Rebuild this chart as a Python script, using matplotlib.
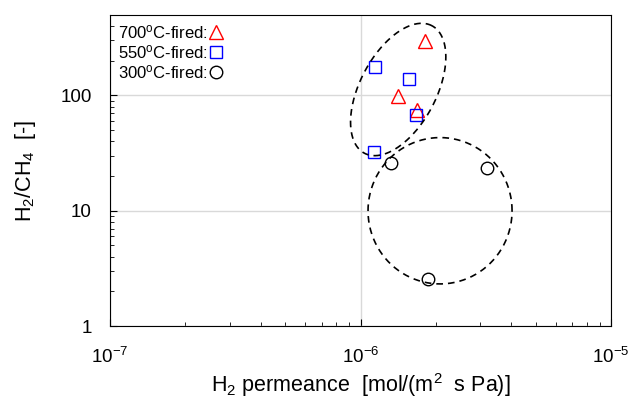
import numpy as np
import matplotlib
matplotlib.use("Agg")
import matplotlib.pyplot as plt
from matplotlib.lines import Line2D

plt.rcParams["font.family"] = ["Liberation Sans", "DejaVu Sans"]
plt.rcParams["mathtext.fontset"] = "custom"
plt.rcParams["mathtext.rm"] = "Liberation Sans"
plt.rcParams["mathtext.it"] = "Liberation Sans:italic"
plt.rcParams["mathtext.default"] = "regular"

# ---- Data ----
perm_700 = [1.81e-6, 1.41e-6, 1.68e-6]
sel_700 = [295, 98, 75]

perm_550 = [1.14e-6, 1.56e-6, 1.67e-6, 1.13e-6]
sel_550 = [175, 140, 68, 32.6]

perm_300 = [1.32e-6, 3.2e-6, 1.86e-6]
sel_300 = [26, 23.6, 2.56]

labels = ["700$^{o}$C-fired:", "550$^{o}$C-fired:", "300$^{o}$C-fired:"]

# guide ellipses: centre (log10 x, log10 y), semi-axes in pixels, tilt
ell_upper = dict(cx=-5.850, cy=2.052, a=72, b=38, angle=62)
ell_lower = dict(cx=-5.683, cy=1.0, a=72, b=73, angle=0)

# ---- Figure ----
fig = plt.figure(figsize=(6.36, 4.03), dpi=100)
ax = fig.add_axes([0.173, 0.191, 0.788, 0.772])

ax.set_xscale("log")
ax.set_yscale("log")
ax.set_xlim(1e-7, 1e-5)
ax.set_ylim(1, 500)

ax.plot(perm_700, sel_700, "^", ms=9.5, mfc="none", mec="red", mew=1)
ax.plot(perm_550, sel_550, "s", ms=9, mfc="none", mec="blue", mew=1)
ax.plot(perm_300, sel_300, "o", ms=9, mfc="none", mec="black", mew=1)

# pixels per decade, for drawing the ellipses round
px_x = 250.5
px_y = 115.0
t = np.linspace(0, 2 * np.pi, 300)
for e in (ell_upper, ell_lower):
    th = np.radians(e["angle"])
    u = e["a"] * np.cos(t)
    v = e["b"] * np.sin(t)
    dx = u * np.cos(th) - v * np.sin(th)
    dy = u * np.sin(th) + v * np.cos(th)
    ax.plot(10 ** (e["cx"] + dx / px_x), 10 ** (e["cy"] + dy / px_y),
            "--", color="black", lw=1.2, dashes=(4, 3))

ax.grid(True, which="major", color="#d9d9d9", lw=1)
ax.set_axisbelow(True)
ax.tick_params(which="both", direction="in", top=False, right=False,
               labelsize=13.5)
ax.tick_params(axis="x", which="major", pad=15)
ax.tick_params(axis="y", which="major", pad=13)
ax.tick_params(which="major", length=5)
ax.tick_params(which="minor", length=3)
ax.set_yticks([1, 10, 100])
ax.set_yticklabels(["1", "10", "100"])
ax.set_xticks([1e-7, 1e-6, 1e-5])
ax.set_xticklabels(["10$^{-7}$", "10$^{-6}$", "10$^{-5}$"])

ax.set_xlabel("H$_2$ permeance  [mol/(m$^2$  s Pa)]", fontsize=15.5, labelpad=3)
ax.set_ylabel("H$_2$/CH$_4$  [-]", fontsize=15.5, labelpad=16)

handles = [
    Line2D([], [], ls="none", marker="^", ms=9.5, mfc="none", mec="red"),
    Line2D([], [], ls="none", marker="s", ms=9, mfc="none", mec="blue"),
    Line2D([], [], ls="none", marker="o", ms=9, mfc="none", mec="black"),
]
ax.legend(handles, labels, loc="upper left", frameon=False, markerfirst=False,
          handlelength=0.7, handletextpad=0.1, labelspacing=0.12,
          fontsize=12, borderaxespad=0.1)

plt.savefig("out.png", dpi=100)
